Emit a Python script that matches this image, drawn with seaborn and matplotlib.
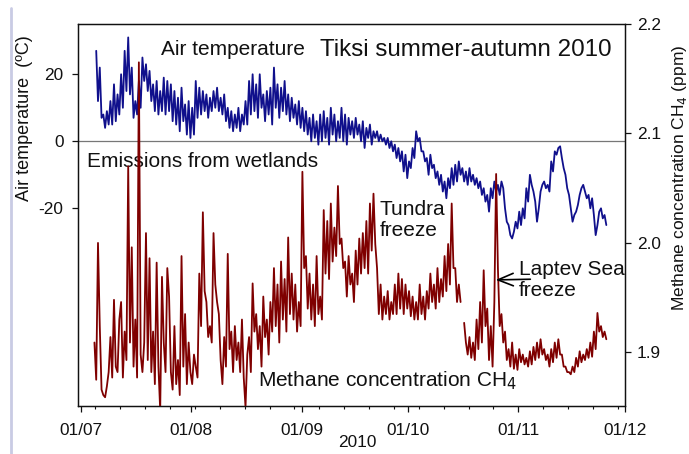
import numpy as np
import pandas as pd
import matplotlib
matplotlib.use('Agg')
import matplotlib.pyplot as plt
import matplotlib.dates as mdates
import seaborn as sns

# Air temperature at Tiksi, two readings per day (06h / 18h)
temp_start = '2010-07-05 06:00'
temp_c = [
    27, 12, 22, 7, 8, 4, 9, 5, 12, 5, 17, 6, 14, 8, 20, 10, 27, 15, 31, 14,
    22, 7, 12, 8, 18, 10, 25, 18, 23, 15, 21, 12, 17, 9, 18, 8, 15, 9, 19, 8,
    18, 9, 17, 6, 15, 5, 13, 3, 16, 6, 11, 2, 12, 1, 10, 2, 18, 7, 16, 8,
    15, 9, 14, 7, 13, 9, 15, 10, 16, 9, 13, 8, 14, 6, 10, 4, 9, 3, 8, 4,
    10, 3, 8, 5, 12, 5, 18, 8, 20, 9, 17, 7, 20, 10, 14, 6, 15, 8, 16, 5,
    22, 10, 17, 7, 16, 9, 18, 8, 14, 6, 13, 7, 11, 5, 12, 4, 10, 3, 9, 2,
    7, 0, 8, 1, 6, -1, 8, 0, 9, 1, 7, -1, 10, 2, 8, 0, 6, 1, 10, 0,
    8, -1, 7, 2, 6, 1, 7, 2, 5, 0, 6, -2, 4, 1, 5, -1, 3, 1, 3, 0,
    2, 0, 1, -1, 1, -2, 0, -3, -1, -5, -2, -6, -3, -9, -4, -11, -6, -8, -2, -5,
    3, 0, 1, -3, -3, -6, -5, -10, -4, -8, -7, -11, -9, -13, -10, -15, -12, -17, -11, -14,
    -8, -13, -7, -12, -6, -10, -8, -12, -9, -13, -8, -12, -10, -13, -11, -14, -12, -16, -14, -18,
    -16, -21, -14, -17, -12, -15, -13, -16, -12, -14, -20, -24, -25, -28, -29, -27, -24, -26, -21, -25,
    -20, -23, -14, -18, -10, -13, -15, -18, -24, -20, -15, -13, -12, -14, -13, -15, -6, -9, -3, -4,
    -2, -1.5, -5, -8, -10, -14, -16, -20, -24, -22, -21, -19, -16, -14, -13, -15, -17, -16, -20, -17,
    -22, -28, -25, -21, -20, -23, -22, -25,
]

# Methane concentration CH4 (ppm), two readings per day, NaN = no data
ch4_start = '2010-07-04 06:00'
ch4_ppm = [
    np.nan, 1.909, 1.875, 2.000, 1.924, 1.866, 1.861, 1.859, 1.869, 1.882,
    1.914, 1.877, 1.948, 1.887, 1.882, 1.930, 1.946, 1.877, 1.919, 1.893,
    2.070, 1.909, 1.996, 1.887, 1.930, 1.877, 2.165, 1.898, 1.882, 1.909,
    2.009, 1.893, 1.986, 1.882, 1.919, 1.871, 1.982, 1.887, 1.847, 1.969,
    1.909, 1.882, 1.977, 1.951, 1.882, 1.866, 1.924, 1.871, 1.893, 1.861,
    1.988, 1.887, 1.935, 1.871, 1.909, 1.882, 1.871, 1.898, 1.887, 1.877,
    1.972, 1.924, 2.028, 1.956, 1.946, 1.914, 1.924, 1.909, 2.009, 1.962,
    1.946, 1.935, 1.893, 1.871, 1.914, 1.887, 1.990, 1.903, 1.919, 1.882,
    1.924, 1.893, 1.909, 1.882, 1.930, 1.877, 1.850, 1.898, 1.914, 1.882,
    1.963, 1.919, 1.935, 1.903, 1.924, 1.887, 1.951, 1.914, 1.930, 1.898,
    1.946, 1.919, 1.977, 1.924, 1.962, 1.909, 1.983, 1.930, 1.967, 1.919,
    2.005, 1.935, 1.972, 1.930, 1.962, 1.919, 1.946, 1.924, 2.065, 1.977,
    1.988, 1.940, 1.972, 1.930, 1.962, 1.924, 1.988, 1.935, 1.951, 1.930,
    2.030, 1.972, 2.020, 1.967, 2.036, 1.983, 2.014, 1.988, 2.052, 1.999,
    2.004, 1.977, 1.983, 1.951, 1.988, 1.962, 1.972, 1.946, 1.993, 1.962,
    2.004, 1.972, 2.009, 1.977, 2.020, 1.972, 2.036, 1.993, 2.045, 1.999,
    1.977, 1.935, 1.962, 1.930, 1.951, 1.935, 1.956, 1.930, 1.946, 1.935,
    1.962, 1.935, 1.972, 1.940, 1.967, 1.935, 1.962, 1.940, 1.956, 1.933,
    1.951, 1.930, 1.946, 1.930, 1.962, 1.935, 1.951, 1.930, 1.956, 1.940,
    1.972, 1.946, 1.962, 1.940, 1.977, 1.946, 1.967, 1.951, 1.988, 1.956,
    1.999, 1.962, 2.036, 1.977, 1.977, 1.946, 1.962, 1.946, np.nan, 1.927,
    1.909, 1.898, 1.914, 1.895, 1.909, 1.893, 1.930, 1.903, 1.946, 1.909,
    1.975, 1.924, 1.940, 1.893, 1.924, 1.887, 1.946, 2.063, 1.977, 1.924,
    1.935, 1.909, 1.919, 1.893, 1.903, 1.887, 1.909, 1.885, 1.898, 1.884,
    1.903, 1.891, 1.898, 1.889, 1.895, 1.887, 1.901, 1.889, 1.905, 1.893,
    1.909, 1.895, 1.912, 1.898, 1.903, 1.893, 1.898, 1.887, 1.903, 1.891,
    1.909, 1.895, 1.912, 1.898, 1.898, 1.887, 1.887, 1.882, 1.882, 1.880,
    1.887, 1.882, 1.895, 1.887, 1.901, 1.891, 1.898, 1.893, 1.903, 1.895,
    1.909, 1.896, 1.919, 1.903, 1.936, 1.919, 1.924, 1.914, 1.919, 1.912,
]

temp_ticks = [-20, 0, 20]
ch4_ticks = [1.9, 2.0, 2.1, 2.2]

sns.set_style('ticks')
plt.rcParams['font.family'] = ['Liberation Sans', 'DejaVu Sans']
plt.rcParams['axes.unicode_minus'] = False

temp_df = pd.DataFrame({'time': pd.date_range(temp_start, periods=len(temp_c), freq='12h'),
                        'temp': temp_c})
ch4_df = pd.DataFrame({'time': pd.date_range(ch4_start, periods=len(ch4_ppm), freq='12h'),
                       'ch4': ch4_ppm})
# split the methane record at the data gaps
ch4_df['seg'] = ch4_df['ch4'].isna().cumsum()
ch4_df = ch4_df.dropna()

fig = plt.figure(figsize=(6.89, 4.54), dpi=100)
ax = fig.add_axes([0.1132, 0.1057, 0.7939, 0.8414])
ax2 = ax.twinx()

ax.axhline(0, color='#777777', lw=0.9, zorder=1)
sns.lineplot(data=temp_df, x='time', y='temp', ax=ax, color='#10108c', lw=1.3)
sns.lineplot(data=ch4_df, x='time', y='ch4', units='seg', estimator=None,
             ax=ax2, color='#7f0000', lw=1.3)

ax.set_xlim(pd.Timestamp('2010-06-30 03:00'), pd.Timestamp('2010-12-01'))
ax.set_ylim(-79, 35)
ax2.set_ylim(1.851, 2.2)
ax.set_yticks(temp_ticks)
ax2.set_yticks(ch4_ticks)
ax2.set_yticklabels([f'{v:.1f}' for v in ch4_ticks])

ax.xaxis.set_major_locator(mdates.MonthLocator())
ax.xaxis.set_major_formatter(mdates.DateFormatter('%d/%m'))
ax.xaxis.set_minor_locator(mdates.WeekdayLocator(byweekday=mdates.MO))

for a in (ax, ax2):
    for s in a.spines.values():
        s.set_color('#111111')
        s.set_linewidth(0.9)
ax.tick_params(axis='x', which='major', length=4.5, width=0.9, pad=8, labelsize=12.4,
               colors='#111111')
ax.tick_params(axis='x', which='minor', length=2.5, width=0.8, colors='#111111')
ax.tick_params(axis='y', length=4.5, width=0.9, pad=6, labelsize=12.4, colors='#111111')
ax2.tick_params(axis='y', length=4.5, width=0.9, pad=4, labelsize=12.4, colors='#111111')

ax.set_xlabel('2010', fontsize=12.4, color='#111111')
ax.xaxis.set_label_coords(0.51, -0.075)
ax.set_ylabel('Air temperature  (ºC)', fontsize=13, va='center', ha='center', color='#111111')
ax.yaxis.set_label_coords(-0.097, 0.754)
ax2.set_ylabel('Methane concentration CH$_4$ (ppm)', fontsize=12.5, va='center', ha='center',
               rotation=90, color='#111111')
ax2.yaxis.set_label_coords(1.099, 0.597)

ax.text(0.4424, 0.932, 'Tiksi summer-autumn 2010', transform=ax.transAxes,
        fontsize=17.4, va='center', ha='left', color='#111111')
ax.text(0.1517, 0.932, 'Air temperature', transform=ax.transAxes,
        fontsize=15, va='center', ha='left', color='#111111')
ax.text(0.0165, 0.641, 'Emissions from wetlands', transform=ax.transAxes,
        fontsize=15, va='center', ha='left', color='#111111')
ax.text(0.552, 0.487, 'Tundra\nfreeze', transform=ax.transAxes,
        fontsize=15, va='center', ha='left', linespacing=1.1, color='#111111')
ax2.text(0.806, 0.330, 'Laptev Sea\nfreeze', transform=ax.transAxes,
         fontsize=15, va='center', ha='left', linespacing=1.1, color='#111111')
ax2.annotate('', xy=(0.7587, 0.330), xytext=(0.832, 0.332), xycoords='axes fraction',
             arrowprops=dict(arrowstyle='->,head_length=1.1,head_width=0.45',
                             color='black', lw=1.2))
ax.text(0.329, 0.065, 'Methane concentration CH$_4$', transform=ax.transAxes,
        fontsize=15, va='center', ha='left', color='#111111')

# thin page border seen at the left of the original
fig.add_artist(plt.Line2D([11 / 689, 11 / 689], [0, 1 - 8 / 454], color='#c9cbe4',
                          lw=2, transform=fig.transFigure))

fig.savefig('out.png', dpi=100)
